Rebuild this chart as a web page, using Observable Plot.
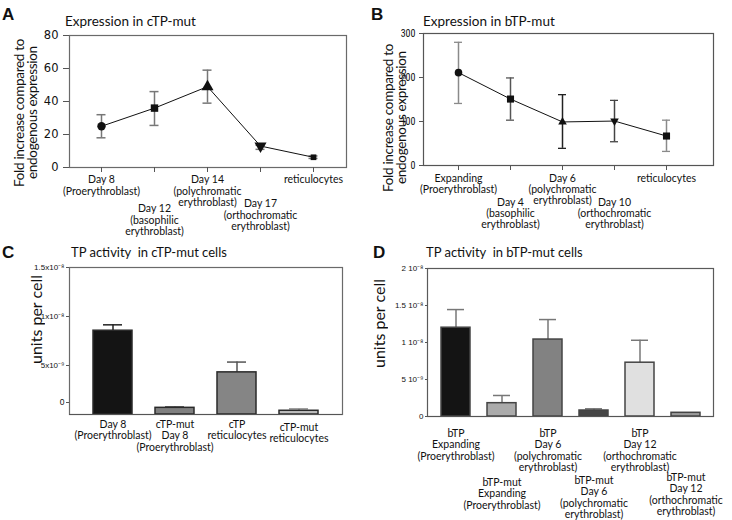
<!DOCTYPE html>
<html><head><meta charset="utf-8">
<script src="https://cdn.jsdelivr.net/npm/d3@7"></script>
<script src="https://cdn.jsdelivr.net/npm/@observablehq/plot@0.6"></script>
<style>
body{margin:0;background:#fff;}
#root{position:relative;width:732px;height:520px;overflow:hidden;font-family:Lato,sans-serif;color:#111;}
#root svg{position:absolute;overflow:visible;}
.letter{position:absolute;font:bold 17px "Liberation Sans",Arial,sans-serif;line-height:1;}
.title{position:absolute;font-size:13.5px;white-space:nowrap;line-height:1;}
.ylab{position:absolute;writing-mode:vertical-rl;transform:rotate(180deg);text-align:center;white-space:nowrap;}
</style></head><body><div id="root"></div>
<script>
// ---------- Panel A data ----------
const catsA = ["Day 8", "Day 12", "Day 14", "Day 17", "reticulocytes"];
const labelsA = ["Day 8\n(Proerythroblast)", "Day 12\n(basophilic\nerythroblast)", "Day 14\n(polychromatic\nerythroblast)", "Day 17\n(orthochromatic\nerythroblast)", "reticulocytes"];
const meanA = [25, 36, 49, 13, 6.2];
const lowA = [18, 25.5, 39, 11, 5.5];
const highA = [32, 46, 59, 13.5, 7];
const ticksA = [0, 20, 40, 60, 80];

// ---------- Panel B data ----------
const catsB = ["Expanding", "Day 4", "Day 6", "Day 10", "reticulocytes"];
const labelsB = ["Expanding\n(Proerythroblast)", "Day 4\n(basophilic\nerythroblast)", "Day 6\n(polychromatic\nerythroblast)", "Day 10\n(orthochromatic\nerythroblast)", "reticulocytes"];
const meanB = [211, 151, 99, 101, 67];
const lowB = [141, 103, 39, 54, 32];
const highB = [280, 199, 161, 148, 103];
const ticksB = [0, 100, 200, 300];

// ---------- Panel C data ----------
const catsC = ["cTP Day 8", "cTP-mut Day 8", "cTP reticulocytes", "cTP-mut reticulocytes"];
const labelsC = ["Day 8\n(Proerythroblast)", "cTP-mut\nDay 8\n(Proerythroblast)", "cTP\nreticulocytes", "cTP-mut\nreticulocytes"];
const valueC = [8.55e-9, 6.8e-10, 4.3e-9, 3.8e-10];
const errTopC = [9.15e-9, 7.8e-10, 5.35e-9, 5.8e-10];
const ticksC = [5e-9, 1e-8, 1.5e-8];
const tickLabelsC = ["5x10⁻⁹", "1x10⁻⁸", "1.5x10⁻⁸"];

// ---------- Panel D data ----------
const catsD = ["bTP Expanding", "bTP-mut Expanding", "bTP Day 6", "bTP-mut Day 6", "bTP Day 12", "bTP-mut Day 12"];
const labelsD = ["bTP\nExpanding\n(Proerythroblast)", "bTP-mut\nExpanding\n(Proerythroblast)", "bTP\nDay 6\n(polychromatic\nerythroblast)", "bTP-mut\nDay 6\n(polychromatic\nerythroblast)", "bTP\nDay 12\n(orthochromatic\nerythroblast)", "bTP-mut\nDay 12\n(orthochromatic\nerythroblast)"];
const valueD = [1.2e-8, 1.8e-9, 1.04e-8, 8.1e-10, 7.27e-9, 5e-10];
const errTopD = [1.445e-8, 2.84e-9, 1.31e-8, 1.04e-9, 1.03e-8, 5e-10];
const ticksD = [0, 5e-9, 1e-8, 1.5e-8, 2e-8];
const tickLabelsD = ["0", "5 10⁻⁹", "1 10⁻⁸", "1.5 10⁻⁸", "2 10⁻⁸"];

// ---------- styles (kept apart from data) ----------
const symA = ["circle", "square", "triangle", "triangle", "square"];
const rotA = [0, 0, 0, 180, 0];
const rA = [4.2, 4.2, 4.5, 4.5, 3.2];
const symB = ["circle", "square", "triangle", "triangle", "square"];
const rotB = [0, 0, 0, 180, 0];
const rB = [3.8, 4, 3.2, 3.2, 4];
const errColB = ["#8a8a8a", "#555", "#222", "#444", "#8a8a8a"];
const fillC = ["#141414", "#808080", "#858585", "#bdbdbd"];
const errColC = ["#222", "#555", "#555", "#999"];
const dyC = [5, 5, 5, 8];
const fillD = ["#141414", "#ababab", "#828282", "#454545", "#e0e0e0", "#9a9a9a"];
const dyD = [12, 61, 12, 59, 12, 56];
const dyA = [7, 36, 7, 31, 7];
const dyB = [8, 32, 8, 32, 8];

const root = document.getElementById("root");
const FONT = "Lato, sans-serif";

function place(el, left, top) { el.style.left = left + "px"; el.style.top = top + "px"; root.appendChild(el); }
function html(cls, text, left, top, extra) {
  const d = document.createElement("div"); d.className = cls; d.textContent = text;
  if (extra) Object.assign(d.style, extra);
  place(d, left, top); return d;
}
const ylabStyle = {height: "200px", width: "26px", fontSize: "13.5px", lineHeight: "13px", letterSpacing: "-0.3px", whiteSpace: "pre"};

// ---------- Panel A ----------
const rowsA = catsA.map((c, i) => ({cat: c, label: labelsA[i], mean: meanA[i], lo: lowA[i], hi: highA[i]}));
const plotA = Plot.plot({
  width: 366, height: 240,
  marginLeft: 69, marginRight: 20, marginTop: 35, marginBottom: 73,
  style: {fontFamily: FONT, color: "#111", background: "transparent"},
  x: {type: "point", domain: catsA, padding: 0, insetLeft: 32, insetRight: 32.5},
  y: {domain: [0, 80]},
  marks: [
    Plot.frame({stroke: "#6a6a6a", strokeWidth: 1.2}),
    Plot.axisY({ticks: ticksA, tickSize: 6, tickPadding: 5, fontSize: 11.5, fontFamily: "DejaVu Sans", label: null, stroke: "#555"}),
    Plot.axisX({tickSize: 5, tickFormat: () => "", label: null, stroke: "#555"}),
    Plot.ruleX(rowsA, {x: "cat", y1: "lo", y2: "hi", stroke: "#777", strokeWidth: 1.5}),
    Plot.ruleY(rowsA, {x1: "cat", x2: "cat", y: "lo", insetLeft: -4.5, insetRight: -4.5, stroke: "#777", strokeWidth: 1.5}),
    Plot.ruleY(rowsA, {x1: "cat", x2: "cat", y: "hi", insetLeft: -4.5, insetRight: -4.5, stroke: "#777", strokeWidth: 1.5}),
    Plot.line(rowsA, {x: "cat", y: "mean", stroke: "#111", strokeWidth: 1}),
    ...rowsA.map((d, i) => Plot.dot([d], {x: "cat", y: "mean", symbol: symA[i], rotate: rotA[i], r: rA[i], fill: "#111", stroke: "none"})),
    ...rowsA.map((d, i) => Plot.text([d], {x: "cat", text: "label", frameAnchor: "bottom", lineAnchor: "top", dy: dyA[i], fontSize: 10.5, lineHeight: 1.12, fill: "#111"}))
  ]
});
place(plotA, 0, 0);
html("letter", "A", 2, 6);
html("title", "Expression in cTP-mut", 65, 15);
html("ylab", "Fold increase compared to\nendogenous expression", 13, 13, ylabStyle);

// ---------- Panel B ----------
const rowsB = catsB.map((c, i) => ({cat: c, label: labelsB[i], mean: meanB[i], lo: lowB[i], hi: highB[i], col: errColB[i]}));
const plotB = Plot.plot({
  width: 366, height: 240,
  marginLeft: 57, marginRight: 19, marginTop: 33, marginBottom: 75,
  style: {fontFamily: FONT, color: "#111", background: "transparent"},
  x: {type: "point", domain: catsB, padding: 0, insetLeft: 33.7, insetRight: 45},
  y: {domain: [0, 300]},
  color: {type: "identity"},
  marks: [
    Plot.frame({stroke: "#555", strokeWidth: 1.2}),
    Plot.axisY({ticks: ticksB, tickSize: 4, tickPadding: 4, fontSize: 10, fontFamily: "'Liberation Sans Narrow', 'Roboto Condensed', sans-serif", label: null, stroke: "#555"}),
    Plot.axisX({tickSize: 5, tickFormat: () => "", label: null, stroke: "#555"}),
    Plot.ruleX(rowsB, {x: "cat", y1: "lo", y2: "hi", stroke: "col", strokeWidth: 1.5}),
    Plot.ruleY(rowsB, {x1: "cat", x2: "cat", y: "lo", insetLeft: -4, insetRight: -4, stroke: "col", strokeWidth: 1.3}),
    Plot.ruleY(rowsB, {x1: "cat", x2: "cat", y: "hi", insetLeft: -4, insetRight: -4, stroke: "col", strokeWidth: 1.3}),
    Plot.line(rowsB, {x: "cat", y: "mean", stroke: "#111", strokeWidth: 1}),
    ...rowsB.map((d, i) => Plot.dot([d], {x: "cat", y: "mean", symbol: symB[i], rotate: rotB[i], r: rB[i], fill: "#111", stroke: "none"})),
    ...rowsB.map((d, i) => Plot.text([d], {x: "cat", text: "label", frameAnchor: "bottom", lineAnchor: "top", dy: dyB[i], fontSize: 10.5, lineHeight: 1.08, fill: "#111"}))
  ]
});
place(plotB, 366, 0);
html("letter", "B", 371, 6);
html("title", "Expression in bTP-mut", 423, 15);
html("ylab", "Fold increase compared to\nendogenous expression", 382, 18, ylabStyle);

// ---------- Panel C ----------
const rowsC = catsC.map((c, i) => ({cat: c, label: labelsC[i], v: valueC[i], hi: errTopC[i], fill: fillC[i], ecol: errColC[i]}));
const plotC = Plot.plot({
  width: 366, height: 280,
  marginLeft: 69, marginRight: 24, marginTop: 27, marginBottom: 106,
  style: {fontFamily: FONT, color: "#111", background: "transparent"},
  x: {type: "band", domain: catsC, paddingInner: 0.365, paddingOuter: 0.35, axis: null},
  y: {domain: [0, 1.5e-8]},
  color: {type: "identity"},
  marks: [
    Plot.frame({stroke: "#6a6a6a", strokeWidth: 1.2}),
    Plot.axisY({ticks: ticksC, tickSize: 3, tickPadding: 2, tickFormat: (d, i) => tickLabelsC[i], fontSize: 8, fontFamily: "'Liberation Sans Narrow', sans-serif", label: null, stroke: "#555"}),
    Plot.axisY({ticks: [0], tickSize: 3, tickPadding: 2, tickFormat: () => "0", dy: -12, fontSize: 8.5, fontFamily: "'Liberation Sans Narrow', sans-serif", label: null, stroke: "#555"}),
    Plot.ruleX(rowsC, {x: "cat", y1: "v", y2: "hi", stroke: "ecol", strokeWidth: 1.5}),
    Plot.tickY(rowsC, {x: "cat", y: "hi", insetLeft: 10, insetRight: 10, stroke: "ecol", strokeWidth: 1.5}),
    Plot.barY(rowsC, {x: "cat", y: "v", fill: "fill", stroke: "#2a2a2a", strokeWidth: 1.5}),
    Plot.ruleY([0], {stroke: "#555", strokeWidth: 1.2}),
    ...rowsC.map((d, i) => Plot.text([d], {x: "cat", text: "label", frameAnchor: "bottom", lineAnchor: "top", dy: dyC[i], fontSize: 10.5, lineHeight: 1.1, fill: "#111"}))
  ]
});
place(plotC, 0, 240);
html("letter", "C", 2, 244);
html("title", "TP activity  in cTP-mut cells", 71, 246, {whiteSpace: "pre", fontSize: "13px"});
html("ylab", "units per cell", 27, 240, {height: "160px", width: "17px", fontSize: "16px", lineHeight: "17px"});

// ---------- Panel D ----------
const rowsD = catsD.map((c, i) => ({cat: c, label: labelsD[i], v: valueD[i], hi: errTopD[i], fill: fillD[i]}));
const plotD = Plot.plot({
  width: 366, height: 280,
  marginLeft: 61, marginRight: 19, marginTop: 28, marginBottom: 104,
  style: {fontFamily: FONT, color: "#111", background: "transparent"},
  x: {type: "band", domain: catsD, paddingInner: 0.372, paddingOuter: 0.229, axis: null},
  y: {domain: [0, 2e-8]},
  color: {type: "identity"},
  marks: [
    Plot.frame({stroke: "#5a5a5a", strokeWidth: 1.2}),
    Plot.axisY({ticks: ticksD, tickSize: 2, tickPadding: 2, tickFormat: (d, i) => tickLabelsD[i], fontSize: 8, fontFamily: "'Liberation Sans Narrow', sans-serif", label: null, stroke: "#555"}),
    Plot.ruleX(rowsD, {x: "cat", y1: "v", y2: "hi", stroke: "#777", strokeWidth: 1.5}),
    Plot.tickY(rowsD, {x: "cat", y: "hi", insetLeft: 6, insetRight: 6, stroke: "#777", strokeWidth: 1.5}),
    Plot.barY(rowsD, {x: "cat", y: "v", fill: "fill", stroke: "#444", strokeWidth: 1.5}),
    Plot.ruleY([0], {stroke: "#555", strokeWidth: 1.2}),
    ...rowsD.map((d, i) => Plot.text([d], {x: "cat", text: "label", frameAnchor: "bottom", lineAnchor: "top", dy: dyD[i], fontSize: 10.5, lineHeight: 1.1, fill: "#111"}))
  ]
});
place(plotD, 366, 240);
html("letter", "D", 373, 244);
html("title", "TP activity  in bTP-mut cells", 426, 246, {whiteSpace: "pre", fontSize: "13px"});
html("ylab", "units per cell", 370, 244, {height: "160px", width: "17px", fontSize: "16px", lineHeight: "17px"});
</script>
</body></html>
